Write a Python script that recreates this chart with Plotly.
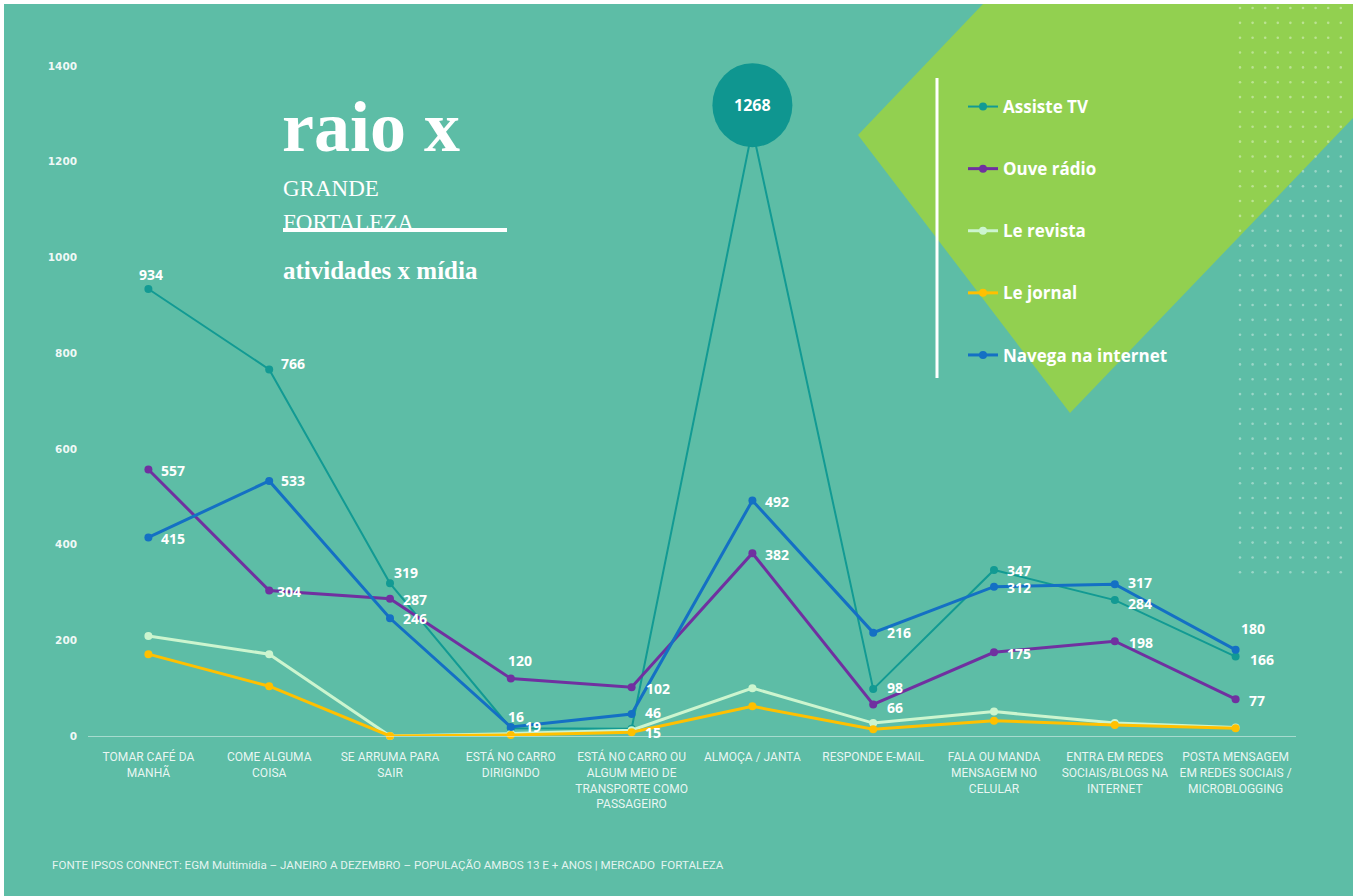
import plotly.graph_objects as go

# ---------------- data ----------------
categories = [
    "TOMAR CAFÉ DA<br>MANHÃ",
    "COME ALGUMA<br>COISA",
    "SE ARRUMA PARA<br>SAIR",
    "ESTÁ NO CARRO<br>DIRIGINDO",
    "ESTÁ NO CARRO OU<br>ALGUM MEIO DE<br>TRANSPORTE COMO<br>PASSAGEIRO",
    "ALMOÇA / JANTA",
    "RESPONDE E-MAIL",
    "FALA OU MANDA<br>MENSAGEM NO<br>CELULAR",
    "ENTRA EM REDES<br>SOCIAIS/BLOGS NA<br>INTERNET",
    "POSTA MENSAGEM<br>EM REDES SOCIAIS /<br>MICROBLOGGING",
]
assiste_tv = [934, 766, 319, 16, 15, 1268, 98, 347, 284, 166]
ouve_radio = [557, 304, 287, 120, 102, 382, 66, 175, 198, 77]
le_revista = [209, 171, 0, 5, 12, 100, 27, 51, 27, 18]
le_jornal = [171, 104, 0, 2, 8, 62, 14, 32, 23, 16]
navega_internet = [415, 533, 246, 19, 46, 492, 216, 312, 317, 180]
y_ticks = [0, 200, 400, 600, 800, 1000, 1200, 1400]

PEAK = 5  # index of the highlighted value (shown in a bubble)

# label offsets in screen pixels (dx right, dy down) — placement only
tv_off = [(3, -15), (24, -6), (16, -11), (5, -12), (21, 4), None, (22, -2), (25, 1), (25, 3), (26, 3)]
radio_off = [(25, 1), (20, 1), (25, 1), (9, -18), (26, 1), (25, 1), (22, 3), (25, 1), (26, 1), (21, 1)]
net_off = [(25, 1), (24, 0), (25, 0), (22, 0), (21, -1), (25, 1), (26, 0), (25, 1), (25, -2), (17, -21)]

# ---------------- layout helpers ----------------
W, H = 1360, 896
L, R, T, B = 88, 64, 56, 160
PW, PH = W - L - R, H - T - B
UNIT = 670 / 1400            # pixels per value unit (0 at y=736, 1400 at y=66)
Y_TOP = PH / UNIT


def px(x):
    return (x - L) / PW


def py(y):
    return (H - B - y) / PH


BG = "#5dbda6"
LIME = "#92d050"
label_font = dict(family="Open Sans", size=14, color="white", weight="bold")

fig = go.Figure()

series = [
    ("Assiste TV", assiste_tv, "#129a93", 2, tv_off),
    ("Ouve rádio", ouve_radio, "#7030a0", 3, radio_off),
    ("Le revista", le_revista, "#ccf5cf", 3, None),
    ("Le jornal", le_jornal, "#ffc000", 3, None),
    ("Navega na internet", navega_internet, "#1470c4", 3, net_off),
]

annotations = []
for name, vals, color, lw, offs in series:
    fig.add_trace(go.Scatter(
        x=list(range(len(categories))), y=vals, name=name, legendgroup=name,
        mode="lines+markers",
        line=dict(color=color, width=lw),
        marker=dict(color=color, size=8),
        cliponaxis=False,
    ))
    if offs:
        for i, v in enumerate(vals):
            if offs[i] is None:
                continue
            dx, dy = offs[i]
            annotations.append(dict(
                x=i, y=v, xref="x", yref="y", xshift=dx, yshift=-dy,
                xanchor="center", yanchor="middle", showarrow=False,
                text=str(v), font=label_font))

shapes = []
# white frame + teal card
shapes.append(dict(type="rect", xref="paper", yref="paper", layer="below",
                   x0=px(4), x1=px(1353), y0=py(4), y1=py(900),
                   fillcolor=BG, line=dict(width=0)))
# lime diamond
pts = [(858, 135), (983, 4), (1353, 4), (1353, 118), (1070, 413)]
path = "M " + " L ".join(f"{px(a):.5f},{py(b):.5f}" for a, b in pts) + " Z"
shapes.append(dict(type="path", xref="paper", yref="paper", layer="below",
                   path=path, fillcolor=LIME, line=dict(width=0)))
# dot grid
for c in range(9):
    for r in range(39):
        cx = 1240 + 12.6 * c
        cy = 8 + 14.85 * r
        shapes.append(dict(type="circle", xref="paper", yref="paper", layer="below",
                           x0=px(cx - 1.3), x1=px(cx + 1.3), y0=py(cy - 1.3), y1=py(cy + 1.3),
                           fillcolor="rgba(255,255,255,0.38)", line=dict(width=0)))
# legend divider
shapes.append(dict(type="line", xref="paper", yref="paper",
                   x0=px(937), x1=px(937), y0=py(78), y1=py(378),
                   line=dict(color="white", width=3)))
# title underline
shapes.append(dict(type="line", xref="paper", yref="paper",
                   x0=px(283), x1=px(507), y0=py(230), y1=py(230),
                   line=dict(color="white", width=4)))
# peak bubble
shapes.append(dict(type="circle", xref="x", yref="y", layer="above",
                   xsizemode="pixel", ysizemode="pixel",
                   xanchor=PEAK, yanchor=assiste_tv[PEAK],
                   x0=-40, x1=40, y0=-18, y1=66,
                   fillcolor="#0f9690", line=dict(width=0)))

annotations += [
    dict(x=PEAK, y=assiste_tv[PEAK], xref="x", yref="y", yshift=24,
         text=str(assiste_tv[PEAK]), showarrow=False,
         font=dict(family="Open Sans", size=16, color="white", weight="bold")),
    dict(x=px(280), y=py(127), xref="paper", yref="paper", xanchor="left", yanchor="middle",
         text="<b>raio x</b>", showarrow=False,
         font=dict(family="Liberation Serif", size=72, color="white")),
    dict(x=px(281), y=py(189), xref="paper", yref="paper", xanchor="left", yanchor="middle",
         text="GRANDE", showarrow=False,
         font=dict(family="Liberation Serif", size=23, color="white")),
    dict(x=px(281), y=py(222), xref="paper", yref="paper", xanchor="left", yanchor="middle",
         text="FORTALEZA", showarrow=False,
         font=dict(family="Liberation Serif", size=23, color="white")),
    dict(x=px(281), y=py(270), xref="paper", yref="paper", xanchor="left", yanchor="middle",
         text="<b>atividades x mídia</b>", showarrow=False,
         font=dict(family="Liberation Serif", size=25, color="white")),
    dict(x=px(50), y=py(865), xref="paper", yref="paper", xanchor="left", yanchor="middle",
         text="FONTE IPSOS CONNECT: EGM Multimídia – JANEIRO A DEZEMBRO – POPULAÇÃO AMBOS 13 E + ANOS | MERCADO  FORTALEZA",
         showarrow=False,
         font=dict(family="Roboto", size=11.6, color="rgba(255,255,255,0.85)")),
]

fig.update_layout(
    width=W, height=H,
    margin=dict(l=L, r=R, t=T, b=B, pad=0),
    paper_bgcolor="white",
    plot_bgcolor="rgba(0,0,0,0)",
    shapes=shapes,
    annotations=annotations,
    showlegend=True,
    legend=dict(
        x=px(963), y=py(89), xanchor="left", yanchor="top",
        bgcolor="rgba(0,0,0,0)", traceorder="grouped", tracegroupgap=37,
        font=dict(family="Open Sans", size=17, color="white", weight="bold"),
        itemclick=False, itemdoubleclick=False,
    ),
    xaxis=dict(
        range=[-0.5, len(categories) - 0.5],
        tickvals=list(range(len(categories))), ticktext=categories,
        showgrid=False, zeroline=False,
        showline=True, linecolor="rgba(255,255,255,0.45)", linewidth=1,
        ticks="", ticklabelstandoff=10,
        tickfont=dict(family="Roboto", size=12, color="rgba(255,255,255,0.88)"),
        fixedrange=True,
    ),
    yaxis=dict(
        range=[0, Y_TOP], tickvals=y_ticks, ticktext=[str(v) for v in y_ticks],
        showgrid=False, zeroline=False, showline=False, ticks="",
        ticklabelstandoff=10,
        tickfont=dict(family="DejaVu Sans", size=10.5, color="rgba(255,255,255,0.92)", weight="bold"),
        fixedrange=True,
    ),
)

fig.write_html("out.html")
